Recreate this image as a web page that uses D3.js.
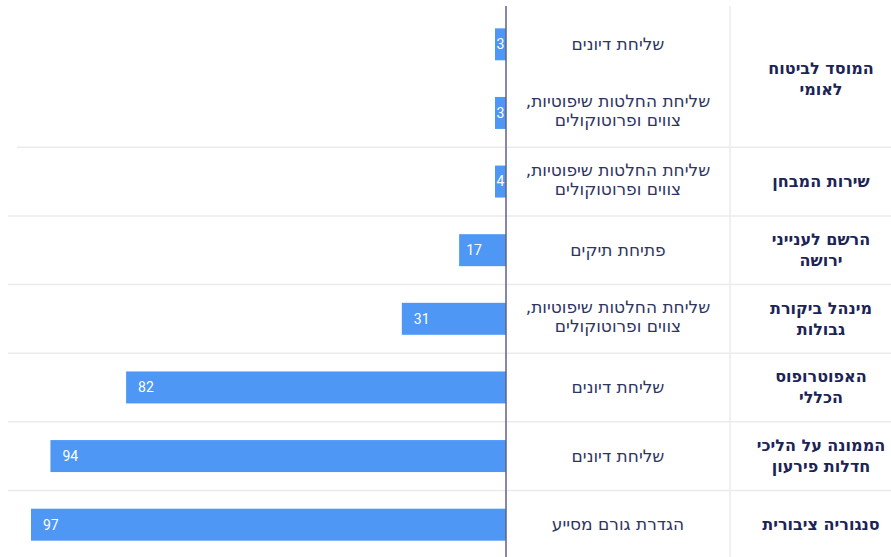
<!DOCTYPE html>
<html lang="he">
<head>
<meta charset="utf-8">
<script src="https://cdn.jsdelivr.net/npm/d3@7.9.0/dist/d3.min.js"></script>
<style>
  body { margin: 0; background: #fff; }
  svg { display: block; font-family: "DejaVu Sans", sans-serif; }
</style>
</head>
<body>
<svg id="chart" width="891" height="557"></svg>
<script>
// one entry per bar row
const values = [3, 3, 4, 17, 31, 82, 94, 97];
const actions = [
  ['שליחת דיונים'],
  ['שליחת החלטות שיפוטיות,', 'צווים ופרוטוקולים'],
  ['שליחת החלטות שיפוטיות,', 'צווים ופרוטוקולים'],
  ['פתיחת תיקים'],
  ['שליחת החלטות שיפוטיות,', 'צווים ופרוטוקולים'],
  ['שליחת דיונים'],
  ['שליחת דיונים'],
  ['הגדרת גורם מסייע']
];
// agencies and how many rows each one covers
const agencies = [
  ['המוסד לביטוח', 'לאומי'],
  ['שירות המבחן'],
  ['הרשם לענייני', 'ירושה'],
  ['מינהל ביקורת', 'גבולות'],
  ['האפוטרופוס', 'הכללי'],
  ['הממונה על הליכי', 'חדלות פירעון'],
  ['סנגוריה ציבורית']
];
const agencyRows = [2, 1, 1, 1, 1, 1, 1];

const svg = d3.select('#chart');
const zeroX = 506, sepX = 730;

const y = d3.scaleBand()
  .domain(d3.range(values.length))
  .range([10, 559])
  .paddingInner(0.534)
  .paddingOuter(0.267);

// bar lengths in the original are not linear in the value
const x = d3.scalePow().exponent(1.33)
  .domain([0, 97])
  .range([zeroX, 31]);

const cy = (i) => y(i) + y.bandwidth() / 2;
const rowTop = (i) => cy(i) - y.step() / 2;

// group separators
let start = 0;
let groups = agencyRows.map((n) => {
  let g = { first: start, last: start + n - 1 };
  start += n;
  return g;
});

svg.append('g')
  .selectAll('line')
  .data(groups.slice(1))
  .join('line')
  .attr('x1', (d, i) => i === 0 ? 17 : 8)
  .attr('x2', 891)
  .attr('y1', (d) => rowTop(d.first))
  .attr('y2', (d) => rowTop(d.first))
  .attr('stroke', '#ebebeb')
  .attr('stroke-width', 1.5);

svg.append('line')
  .attr('x1', sepX).attr('x2', sepX)
  .attr('y1', 6).attr('y2', 557)
  .attr('stroke', '#ebebeb')
  .attr('stroke-width', 1.5);

// bars
const barW = (v) => Math.max(zeroX - x(v), 11);

svg.append('g')
  .selectAll('rect')
  .data(values)
  .join('rect')
  .attr('x', (d) => zeroX - barW(d))
  .attr('y', (d, i) => y(i))
  .attr('width', (d) => barW(d))
  .attr('height', y.bandwidth())
  .attr('fill', '#4e97f5');

svg.append('g')
  .selectAll('text')
  .data(values)
  .join('text')
  .attr('x', (d) => {
    let w = barW(d);
    if (w < 25) return zeroX - w / 2;
    return zeroX - w + Math.min(12, w * 0.15);
  })
  .attr('y', (d, i) => cy(i))
  .attr('dy', '0.35em')
  .attr('text-anchor', (d) => barW(d) < 25 ? 'middle' : 'start')
  .attr('fill', '#fff')
  .attr('font-family', 'Roboto, sans-serif')
  .attr('font-size', 14)
  .text((d) => d);

// zero line
svg.append('line')
  .attr('x1', zeroX).attr('x2', zeroX)
  .attr('y1', 6).attr('y2', 557)
  .attr('stroke', '#5d6285')
  .attr('stroke-width', 1.5);

// centred multi-line text
function multiline(sel, lines, lh, shift) {
  lines.forEach((t, k) => {
    sel.append('tspan')
      .attr('x', sel.attr('x'))
      .attr('dy', k === 0 ? ((1 - lines.length) * lh / 2 + shift) : lh)
      .text(t);
  });
}

// action labels
actions.forEach((lines, i) => {
  let t = svg.append('text')
    .attr('x', 618)
    .attr('y', cy(i))
    .attr('text-anchor', 'middle')
    .attr('direction', 'rtl')
    .attr('font-size', 17)
    .attr('fill', '#2f3563');
  multiline(t, lines, 19, lines.length > 1 ? 4 : 5.5);
});

// agency labels
groups.forEach((g, i) => {
  let mid = (cy(g.first) + cy(g.last)) / 2;
  let t = svg.append('text')
    .attr('x', 821)
    .attr('y', mid)
    .attr('text-anchor', 'middle')
    .attr('direction', 'rtl')
    .attr('font-size', 16)
    .attr('font-weight', 'bold')
    .attr('fill', '#1c2456');
  multiline(t, agencies[i], 21, 5.5);
});
</script>
</body>
</html>
